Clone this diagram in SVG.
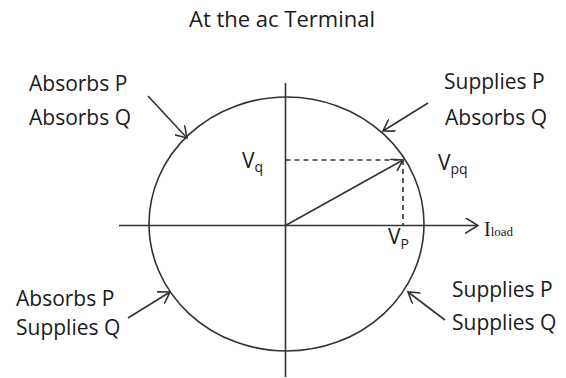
<svg xmlns="http://www.w3.org/2000/svg" width="566" height="378" viewBox="0 0 566 378">
<style>
.t{font-family:"Open Sans","Liberation Sans",sans-serif;font-size:21px;fill:#1a1a1a}
.v{font-family:"Open Sans","Liberation Sans",sans-serif;font-size:21px;fill:#1a1a1a}
.s{font-family:"Open Sans","Liberation Sans",sans-serif;font-size:14px;fill:#1a1a1a}
.ln{stroke:#333;stroke-width:1.6;fill:none}
.dash{stroke:#333;stroke-width:1.6;fill:none;stroke-dasharray:5,4}
</style>
<defs>
<marker id="big" markerUnits="userSpaceOnUse" viewBox="0 0 14 16" refX="13" refY="8" markerWidth="14" markerHeight="16" orient="auto">
<path d="M0,0 L13,8 L0,16" fill="none" stroke="#333" stroke-width="1.6"/>
</marker>
<marker id="sm" markerUnits="userSpaceOnUse" viewBox="0 0 12 14" refX="11" refY="7" markerWidth="12" markerHeight="14" orient="auto">
<path d="M0,0 L11,7 L0,14" fill="none" stroke="#333" stroke-width="1.6"/>
</marker>
</defs>
<rect width="566" height="378" fill="#fff"/>
<g id="title"><text class="t" x="189" y="27" style="font-size:22px">At the  ac Terminal</text></g>
<g id="circle"><ellipse class="ln" cx="286.5" cy="224" rx="137.5" ry="127"/></g>
<g id="connectors">
<line class="ln" x1="285.5" y1="83" x2="285.5" y2="377"/>
<line class="ln" x1="119" y1="225.5" x2="478" y2="225.5" marker-end="url(#big)"/>
<line class="ln" x1="285.5" y1="225.5" x2="403" y2="160" marker-end="url(#sm)"/>
<line class="dash" x1="285.5" y1="160" x2="403" y2="160"/>
<line class="dash" x1="403" y1="160" x2="403" y2="225.5"/>
<line class="ln" x1="148" y1="96" x2="187" y2="138" marker-end="url(#sm)"/>
<line class="ln" x1="428" y1="103" x2="383" y2="131" marker-end="url(#sm)"/>
<line class="ln" x1="128" y1="318" x2="170" y2="292" marker-end="url(#sm)"/>
<line class="ln" x1="445" y1="320" x2="408" y2="292" marker-end="url(#sm)"/>
</g>
<g id="q2"><text class="t" x="29" y="91">Absorbs P</text><text class="t" x="29" y="125">Absorbs Q</text></g>
<g id="q1"><text class="t" x="444" y="89">Supplies P</text><text class="t" x="445" y="125">Absorbs Q</text></g>
<g id="q3"><text class="t" x="16" y="306">Absorbs P</text><text class="t" x="16" y="335">Supplies Q</text></g>
<g id="q4"><text class="t" x="452" y="297">Supplies P</text><text class="t" x="452" y="330">Supplies Q</text></g>
<g id="vq"><text class="v" x="242" y="168">V<tspan class="s" dy="4">q</tspan></text></g>
<g id="vpq"><text class="v" x="438" y="170">V<tspan class="s" dy="4">pq</tspan></text></g>
<g id="vp"><text class="v" x="388" y="244">V<tspan class="s" dy="5">P</tspan></text></g>
<g id="iload"><text x="484" y="236" style="font-family:'Liberation Serif',serif;font-size:20px;fill:#1a1a1a">I<tspan style="font-size:13px">load</tspan></text></g>
</svg>
